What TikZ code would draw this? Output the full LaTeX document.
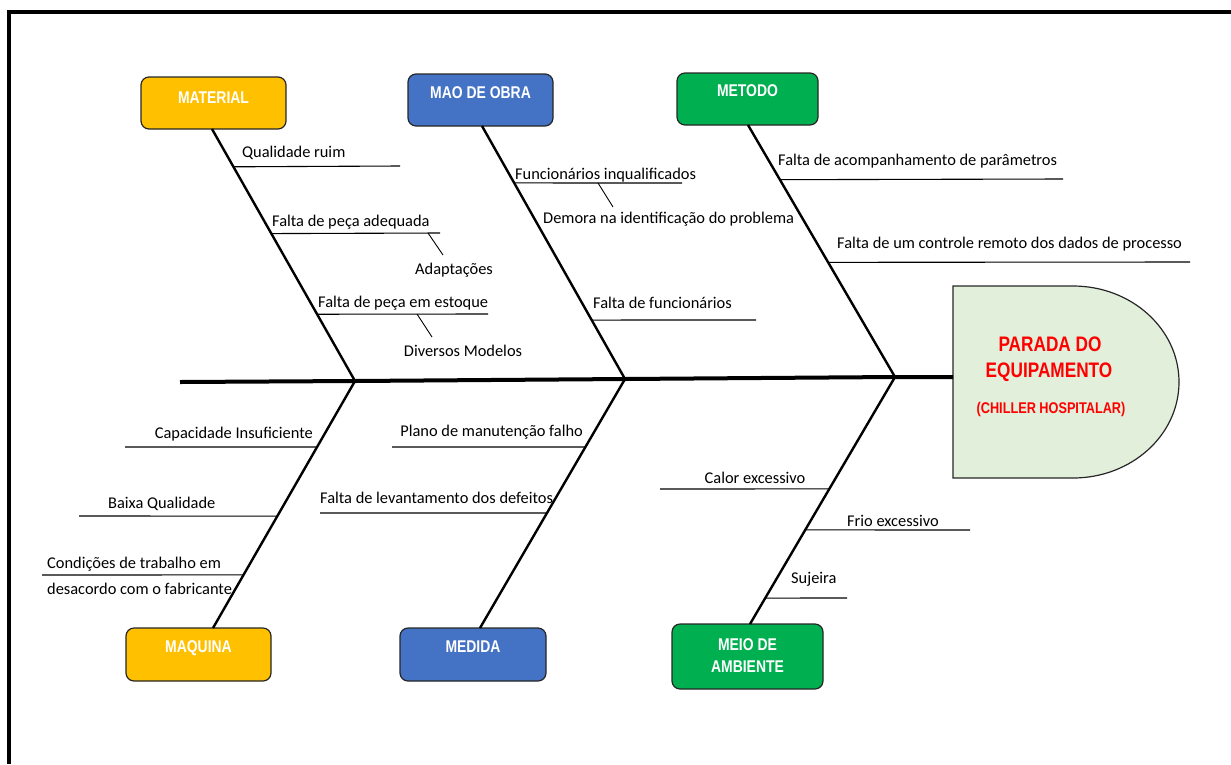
\documentclass[tikz,border=0pt]{standalone}
\usepackage{fontspec}
\setmainfont{Carlito}
\newfontfamily\capfont[FakeStretch=0.82]{Liberation Sans}
\usetikzlibrary{calc}
\definecolor{matyellow}{HTML}{FFC000}
\definecolor{catblue}{HTML}{4472C4}
\definecolor{catgreen}{HTML}{00B050}
\definecolor{headfill}{HTML}{E2EFDA}
\definecolor{boxline}{HTML}{262626}
\begin{document}
\begin{tikzpicture}[x=1pt,y=-1pt,
  catbox/.style={draw=boxline, line width=1.2pt, rounded corners=8pt,
    minimum width=145pt, minimum height=52pt, inner sep=0pt, outer sep=0pt},
  cattext/.style={font=\capfont\bfseries\fontsize{17}{21}\selectfont, text=white,
    anchor=base, inner sep=0pt},
  cause/.style={font=\fontsize{16.4}{20}\selectfont, inner sep=0pt},
  spine/.style={line width=4pt},
  bone/.style={line width=2.4pt},
  twig/.style={line width=1.1pt},
  headtext/.style={font=\capfont\bfseries\fontsize{21}{25}\selectfont, text=red, inner sep=0pt, anchor=base}
]
\useasboundingbox (0,0) rectangle (1231,764);
% frame
\draw[line width=4pt] (9,764) -- (9,12) -- (1231,12);

% effect (head)
\draw[draw=boxline, line width=1.2pt, fill=headfill]
  (953,286) -- (1073,286) arc[start angle=90, end angle=-90, x radius=106pt, y radius=96pt]
  -- (953,478) -- cycle;
\node[headtext] (h1) at (1050,351) {PARADA DO};
\node[headtext] (h2) at (1049,377) {EQUIPAMENTO};
\node[headtext, font=\capfont\bfseries\fontsize{15.5}{19}\selectfont] (h3) at (1051,413) {(CHILLER HOSPITALAR)};

% spine
\coordinate (tail) at (180,382);
\coordinate (j1) at (355,381);
\coordinate (j2) at (625,379);
\coordinate (j3) at (895,377);
\coordinate (headw) at (953,377);
\draw[spine] (tail) -- (j1) -- (j2) -- (j3) -- (headw);

% category boxes
\node[catbox, fill=matyellow, anchor=north west] (mat) at (141,77) {};
\node[cattext] (matt) at ($(mat.north)+(0,26)$) {MATERIAL};
\node[catbox, fill=catblue, anchor=north west] (mao) at (408,74) {};
\node[cattext] (maot) at ($(mao.north)+(0,24)$) {MAO DE OBRA};
\node[catbox, fill=catgreen, anchor=north west, minimum width=141pt] (met) at (677,73) {};
\node[cattext] (mett) at ($(met.north)+(0,23)$) {METODO};
\node[catbox, fill=matyellow, anchor=north west, minimum height=53pt] (maq) at (126,628) {};
\node[cattext] (maqt) at ($(maq.north)+(0,24)$) {MAQUINA};
\node[catbox, fill=catblue, anchor=north west, minimum width=146pt, minimum height=53pt] (med) at (400,628) {};
\node[cattext] (medt) at ($(med.north)+(0,24)$) {MEDIDA};
\node[catbox, fill=catgreen, anchor=north west, minimum width=151pt, minimum height=65pt] (mei) at (672,624) {};
\node[cattext] (meit1) at ($(mei.north)+(0,26)$) {MEIO DE};
\node[cattext] (meit2) at ($(mei.north)+(0,48)$) {AMBIENTE};

% bones
\coordinate (b1) at ([xshift=-1.5pt]mat.south);
\coordinate (b2) at ([xshift=1.5pt]mao.south);
\coordinate (b3) at ([xshift=0.5pt]met.south);
\coordinate (b4) at ([xshift=14.5pt]maq.north);
\coordinate (b5) at ([xshift=7pt]med.north);
\coordinate (b6) at ([xshift=2.5pt]mei.north);
\draw[bone] (b1) -- (j1);
\draw[bone] (b2) -- (j2);
\draw[bone] (b3) -- (j3);
\draw[bone] (b4) -- (j1);
\draw[bone] (b5) -- (j2);
\draw[bone] (b6) -- (j3);

% MATERIAL causes
\coordinate (m1) at ($(b1)!0.150!(j1)$);
\coordinate (m2) at ($(b1)!0.415!(j1)$);
\coordinate (m3) at ($(b1)!0.735!(j1)$);
\draw[twig] (m1) -- (400,166);
\draw[twig] (m2) -- (440,233);
\draw[twig] (m3) -- (488,314);
\node[cause, anchor=base west] (t1) at (242,157) {Qualidade ruim};
\node[cause, anchor=base west] (t2) at (272,226) {Falta de peça adequada};
\node[cause, anchor=base] (t2a) at (454,274) {Adaptações};
\coordinate (s2a) at (428,233);
\coordinate (s2b) at (443,255);
\draw[twig, line width=0.9pt] (s2a) -- (s2b);
\node[cause, anchor=base west] (t3) at (318,307) {Falta de peça em estoque};
\node[cause, anchor=base] (t3a) at (463,356) {Diversos Modelos};
\coordinate (s3a) at (417,314);
\coordinate (s3b) at (432,337);
\draw[twig, line width=0.9pt] (s3a) -- (s3b);

% MAO DE OBRA causes
\coordinate (o1) at ($(b2)!0.225!(j2)$);
\coordinate (o2) at ($(b2)!0.767!(j2)$);
\draw[twig] (o1) -- (682,183);
\draw[twig] (o2) -- (756,320);
\node[cause, anchor=base west] (t4) at (515,179) {Funcionários inqualificados};
\node[cause, anchor=base west] (t4a) at (543,223) {Demora na identificação do problema};
\coordinate (s4a) at (598,183);
\coordinate (s4b) at (613,207);
\draw[twig, line width=0.9pt] (s4a) -- (s4b);
\node[cause, anchor=base west] (t5) at (593,308) {Falta de funcionários};

% METODO causes
\coordinate (e1) at ($(b3)!0.217!(j3)$);
\coordinate (e2) at ($(b3)!0.545!(j3)$);
\draw[twig] (e1) -- (1063,179);
\draw[twig] (e2) -- (1190,262);
\node[cause, anchor=base west] (t6) at (778,165) {Falta de acompanhamento de parâmetros};
\node[cause, anchor=base west] (t7) at (837,248) {Falta de um controle remoto dos dados de processo};

% MAQUINA causes
\coordinate (q1) at ($(j1)!0.267!(b4)$);
\coordinate (q2) at ($(j1)!0.547!(b4)$);
\coordinate (q3) at ($(j1)!0.785!(b4)$);
\draw[twig] (q1) -- (125,447);
\draw[twig] (q2) -- (79,516);
\draw[twig] (q3) -- (42,575);
\node[cause, anchor=base east] (t8) at (313,438) {Capacidade Insuficiente};
\node[cause, anchor=base west] (t9) at (108,508) {Baixa Qualidade};
\node[cause, anchor=base west] (t10) at (47,568) {Condições de trabalho em};
\node[cause, anchor=base west] (t11) at (47,594) {desacordo com o fabricante};

% MEDIDA causes
\coordinate (d1) at ($(j2)!0.273!(b5)$);
\coordinate (d2) at ($(j2)!0.538!(b5)$);
\draw[twig] (d1) -- (392,447);
\draw[twig] (d2) -- (320,513);
\node[cause, anchor=base east] (t12) at (583,436) {Plano de manutenção falho};
\node[cause, anchor=base west] (t13) at (320,503) {Falta de levantamento dos defeitos};

% MEIO DE AMBIENTE causes
\coordinate (a1) at ($(j3)!0.453!(b6)$);
\coordinate (a2) at ($(j3)!0.619!(b6)$);
\coordinate (a3) at ($(j3)!0.895!(b6)$);
\draw[twig] (a1) -- (660,489);
\draw[twig] (a2) -- (970,530);
\draw[twig] (a3) -- (847,598);
\node[cause, anchor=base] (t14) at (755,483) {Calor excessivo};
\node[cause, anchor=base west] (t15) at (847,526) {Frio excessivo};
\node[cause, anchor=base west] (t16) at (791,583) {Sujeira};
\end{tikzpicture}
\end{document}
